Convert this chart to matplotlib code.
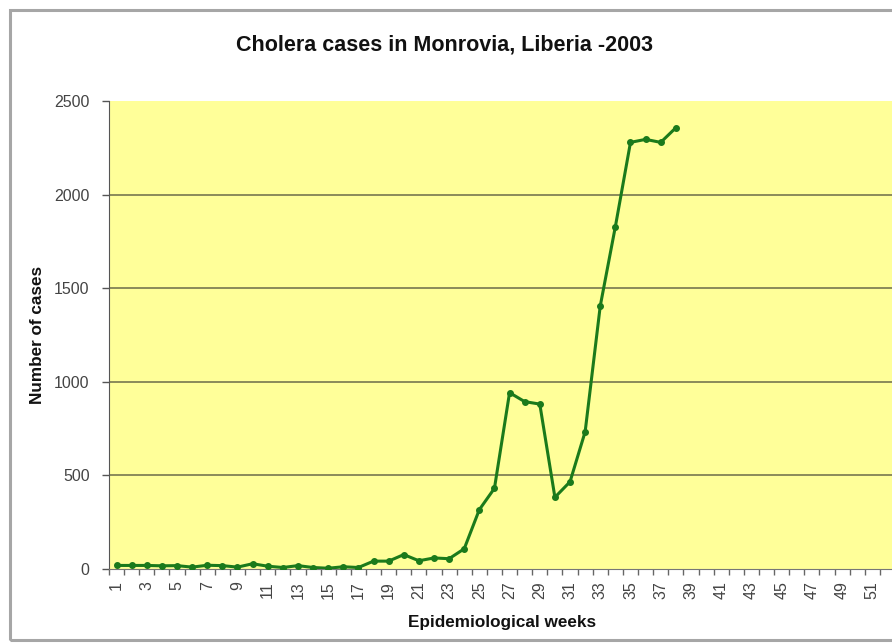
"""
Cholera cases in Monrovia, Liberia - 2003
Weekly case counts by epidemiological week (Excel-style line chart).
"""

import matplotlib
matplotlib.use("Agg")
import matplotlib.pyplot as plt
from matplotlib.patches import Rectangle
from matplotlib.ticker import FixedLocator

plt.rcParams["font.family"] = ["Liberation Sans", "DejaVu Sans"]

# ── Data ──────────────────────────────────────────────────────────────────────
weeks = list(range(1, 39))
cases = [19, 19, 19, 17, 18, 10, 20, 18, 10, 28,
         15, 8, 18, 8, 4, 12, 8, 42, 42, 77,
         44, 59, 55, 108, 317, 431, 942, 894, 881, 383,
         466, 733, 1405, 1829, 2279, 2295, 2279, 2357]

n_weeks = 52
tick_weeks = list(range(1, n_weeks, 2))
y_ticks = [0, 500, 1000, 1500, 2000, 2500]

TITLE = "Cholera cases in Monrovia, Liberia -2003"
XLABEL = "Epidemiological weeks"
YLABEL = "Number of cases"

LINE_COLOR = "#1b7a1b"
PLOT_BG = "#ffff99"
GRID_COLOR = "#8a8a5a"
TEXT_COLOR = "#444444"

# ── Figure ────────────────────────────────────────────────────────────────────
W, H = 892, 643
fig = plt.figure(figsize=(W / 100, H / 100), dpi=100)
fig.patch.set_facecolor("white")

# chart frame (cut off on the right, like the screenshot)
fig.add_artist(Rectangle((10 / W, 1 - 640 / H), 1.0, 630 / H,
                         transform=fig.transFigure, fill=False,
                         edgecolor="#a6a6a6", linewidth=2.2))

left, right, top, bottom = 109, 895, 101, 569
ax = fig.add_axes([left / W, 1 - bottom / H, (right - left) / W, (bottom - top) / H])
ax.set_facecolor(PLOT_BG)

# gridlines (Excel draws none on the top edge of the plot area)
for y in y_ticks[1:-1]:
    ax.axhline(y, color=GRID_COLOR, linewidth=1.4, zorder=1)

ax.plot(weeks, cases, color=LINE_COLOR, linewidth=2.2,
        marker="o", markersize=4, zorder=3)

ax.set_xlim(0.5, n_weeks + 0.5)
ax.set_ylim(0, 2500)
ax.set_yticks(y_ticks)

ax.set_xticks(tick_weeks)
ax.set_xticklabels([str(w) for w in tick_weeks], rotation=90)
ax.xaxis.set_minor_locator(FixedLocator([w + 0.5 for w in range(0, n_weeks + 1)]))
ax.tick_params(axis="x", which="major", length=0, pad=9,
               labelsize=11.5, labelcolor=TEXT_COLOR)
ax.tick_params(axis="x", which="minor", length=4, width=1, color="#666666", direction="out")
ax.tick_params(axis="y", length=5, width=1, color="#555555", direction="out",
               labelsize=11.5, labelcolor=TEXT_COLOR, pad=9)

for side in ("top", "right"):
    ax.spines[side].set_visible(False)
ax.spines["left"].set_color("#555555")
ax.spines["bottom"].set_color("#777777")

fig.text(502 / W, 1 - 622 / H, XLABEL, ha="center", va="center",
         fontsize=12.3, fontweight="bold", color="#111111")
fig.text(38 / W, 1 - 335 / H, YLABEL, rotation=90, ha="center", va="center",
         fontsize=12.3, fontweight="bold", color="#111111")
fig.text(445 / W, 1 - 45 / H, TITLE, ha="center", va="center",
         fontsize=15.5, fontweight="bold", color="#111111")

fig.savefig("out.png", dpi=100)
print("Saved plot: out.png")
